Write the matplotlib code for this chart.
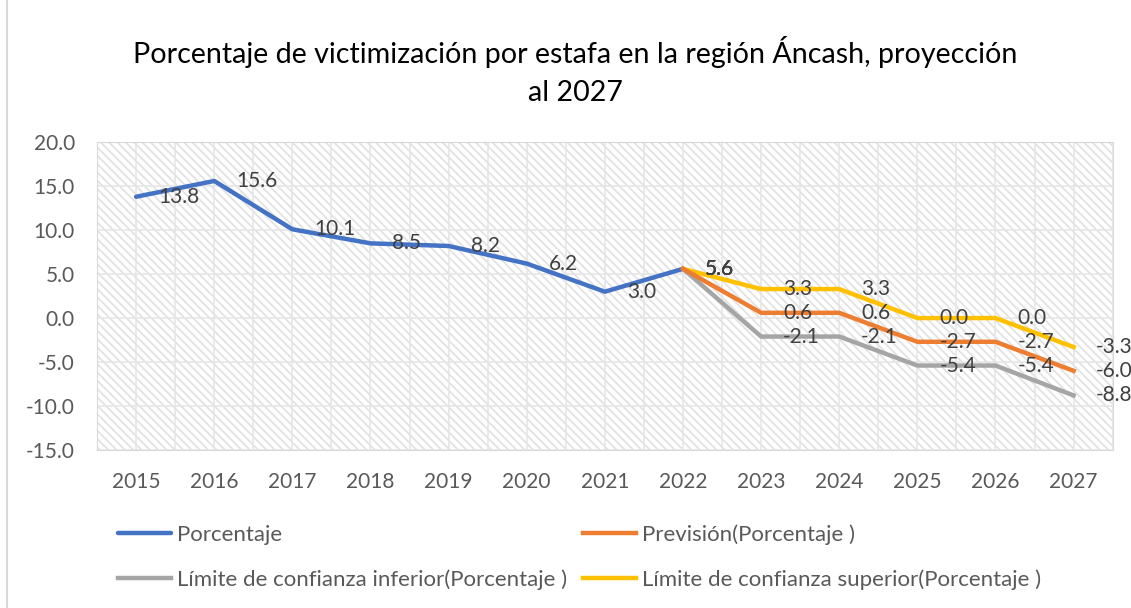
import matplotlib
matplotlib.use("Agg")
import matplotlib.pyplot as plt
from matplotlib.patches import Rectangle
from matplotlib.lines import Line2D

years = ["2015", "2016", "2017", "2018", "2019", "2020", "2021", "2022",
         "2023", "2024", "2025", "2026", "2027"]
porcentaje = [13.8, 15.6, 10.1, 8.5, 8.2, 6.2, 3.0, 5.6]
prevision = [5.6, 0.6, 0.6, -2.7, -2.7, -6.0]
lim_inf = [5.6, -2.1, -2.1, -5.4, -5.4, -8.8]
lim_sup = [5.6, 3.3, 3.3, 0.0, 0.0, -3.3]
yticks = [20.0, 15.0, 10.0, 5.0, 0.0, -5.0, -10.0, -15.0]

plt.rcParams['font.family'] = ['Lato', 'DejaVu Sans']
plt.rcParams['hatch.linewidth'] = 1.3
plt.rcParams['hatch.color'] = '#e2e2e2'

fig = plt.figure(figsize=(11.31, 6.08), dpi=100)
ax = fig.add_axes([0.0858, 0.260, 0.898, 0.506])

# plot area pattern fill
ax.add_patch(Rectangle((0, 0), 1, 1, transform=ax.transAxes, facecolor='white',
                       edgecolor='#e2e2e2', hatch='\\\\\\\\', lw=0, zorder=0))

x_hist = list(range(len(porcentaje)))
x_fc = list(range(len(porcentaje) - 1, len(years)))

l1, = ax.plot(x_hist, porcentaje, color='#4472C4', lw=3.2, label='Porcentaje', zorder=3,
              solid_capstyle='round')
l2, = ax.plot(x_fc, prevision, color='#ED7D31', lw=3.2, label='Previsión(Porcentaje )', zorder=3)
l3, = ax.plot(x_fc, lim_inf, color='#A5A5A5', lw=3.2,
              label='Límite de confianza inferior(Porcentaje )', zorder=2)
l4, = ax.plot(x_fc, lim_sup, color='#FFC000', lw=3.2,
              label='Límite de confianza superior(Porcentaje )', zorder=2)

lab_kw = dict(textcoords='offset pixels', xytext=(22, 0), ha='left', va='center',
              fontsize=15, color='#404040', zorder=5, annotation_clip=False)
for xi, v in zip(x_hist, porcentaje):
    ax.annotate(f"{v:.1f}", (xi, v), **lab_kw)
for series in (prevision, lim_inf, lim_sup):
    for xi, v in zip(x_fc, series):
        ax.annotate(f"{v:.1f}", (xi, v), **lab_kw)

ax.set_xlim(-0.5, len(years) - 0.5)
ax.set_ylim(-15, 20)
ax.set_xticks(range(len(years)))
ax.set_xticklabels(years)
ax.set_yticks(yticks)
ax.set_yticklabels([f"{t:.1f}" for t in yticks])
ax.tick_params(length=0, labelsize=15, labelcolor='#595959')
ax.tick_params(axis='x', pad=16)
ax.tick_params(axis='y', pad=16)

for v in [i * 0.5 - 0.5 for i in range(2 * len(years) + 1)]:
    ax.axvline(v, color='#e6e6e6', lw=1.2, zorder=1)
for t in yticks:
    ax.axhline(t, color='#e6e6e6', lw=1.2, zorder=1)
for s in ax.spines.values():
    s.set_color('#d9d9d9')

fig.text(0.509, 0.914, "Porcentaje de victimización por estafa en la región Áncash, proyección",
         ha='center', va='center', fontsize=20.6, color='black')
fig.text(0.509, 0.847, "al 2027", ha='center', va='center', fontsize=20.6, color='black')

fig.legend([l1, l3, l2, l4], [l1.get_label(), l3.get_label(), l2.get_label(), l4.get_label()],
           loc='upper left', bbox_to_anchor=(0.0965, 0.152), ncol=2, frameon=False,
           fontsize=16, labelcolor='#595959', handlelength=2.4, handletextpad=0.27,
           columnspacing=0.7, labelspacing=1.1, borderaxespad=0)

fig.add_artist(Line2D([7 / 1131, 7 / 1131], [0, 1], color='#d9d9d9', lw=1.5))

fig.savefig("out.png", dpi=100)
